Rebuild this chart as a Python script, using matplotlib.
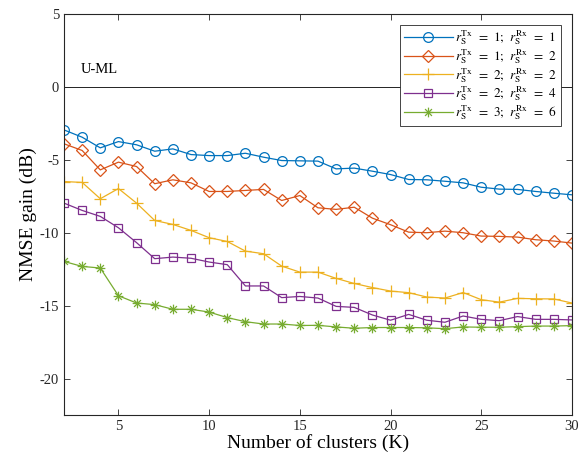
import numpy as np
import matplotlib
matplotlib.use("Agg")
import matplotlib.pyplot as plt
from matplotlib.path import Path

plt.rcParams['font.family'] = ['Liberation Serif', 'DejaVu Serif']
plt.rcParams['mathtext.fontset'] = 'stix'
plt.rcParams['axes.unicode_minus'] = False

# number of clusters
K = np.arange(2, 31)

# NMSE gain (dB) per configuration
g_1_1 = [-2.95, -3.45, -4.18, -3.75, -3.97, -4.41, -4.25, -4.64, -4.71, -4.71,
         -4.55, -4.82, -5.05, -5.07, -5.09, -5.62, -5.57, -5.78, -6.01, -6.35,
         -6.37, -6.47, -6.58, -6.88, -7.01, -7.03, -7.17, -7.29, -7.40]
g_1_2 = [-3.90, -4.36, -5.69, -5.16, -5.46, -6.64, -6.37, -6.58, -7.17, -7.17,
         -7.10, -7.03, -7.79, -7.45, -8.29, -8.40, -8.25, -9.00, -9.45, -9.96,
         -10.00, -9.89, -10.00, -10.23, -10.25, -10.30, -10.48, -10.57, -10.71]
g_2_2 = [-6.49, -6.55, -7.67, -6.97, -7.97, -9.16, -9.43, -9.84, -10.34, -10.60,
         -11.26, -11.44, -12.29, -12.70, -12.70, -13.13, -13.48, -13.76, -14.00, -14.11,
         -14.41, -14.48, -14.10, -14.59, -14.76, -14.50, -14.53, -14.54, -14.82]
g_2_4 = [-7.97, -8.47, -8.88, -9.66, -10.68, -11.78, -11.67, -11.75, -12.01, -12.19,
         -13.65, -13.65, -14.45, -14.37, -14.48, -15.05, -15.12, -15.64, -16.00, -15.60,
         -16.00, -16.14, -15.71, -15.94, -16.03, -15.75, -15.94, -15.94, -15.98]
g_3_6 = [-11.97, -12.31, -12.42, -14.32, -14.82, -14.93, -15.25, -15.25, -15.44, -15.82,
         -16.10, -16.26, -16.26, -16.36, -16.35, -16.46, -16.55, -16.50, -16.50, -16.50,
         -16.52, -16.58, -16.46, -16.48, -16.48, -16.44, -16.40, -16.40, -16.37]

lab = r'$r_{\mathrm{S}}^{\mathrm{Tx}}\;\,=\;\,%d;\;\,r_{\mathrm{S}}^{\mathrm{Rx}}\;\,=\;\,%d$'
labels = [lab % (1, 1), lab % (1, 2), lab % (2, 2), lab % (2, 4), lab % (3, 6)]
series = [g_1_1, g_1_2, g_2_2, g_2_4, g_3_6]
colors = ['#0072BD', '#D95319', '#EDB120', '#7E2F8E', '#77AC30']

# matlab-like asterisk: plus and cross overlaid
d = 0.7071
asterisk = Path([(-1, 0), (1, 0), (0, -1), (0, 1), (-d, -d), (d, d), (-d, d), (d, -d)],
                [Path.MOVETO, Path.LINETO] * 4)
markers = ['o', 'D', '+', 's', asterisk]
msizes = [7, 6, 8, 5.5, 7]

fig = plt.figure(figsize=(5.83, 4.66), dpi=100)
ax = fig.add_axes([0.1098, 0.1094, 0.8712, 0.8606])

ax.axhline(0, color='black', lw=0.6, zorder=1)
ax.text(2.9, 0.75, 'U-ML', fontsize=10.5, ha='left', va='bottom')

for y, lb, c, m, ms in zip(series, labels, colors, markers, msizes):
    ax.plot(K, y, color=c, marker=m, ms=ms, lw=0.9, mfc='none', mec=c,
            mew=0.9, label=lb)

ax.set_xlim(2, 30)
ax.set_ylim(-22.5, 5)
ax.set_xticks([5, 10, 15, 20, 25, 30])
ax.set_yticks([-20, -15, -10, -5, 0, 5])
ax.tick_params(direction='in', top=True, right=True, labelsize=10.5,
               length=4, width=0.6, colors='#262626')
for s in ax.spines.values():
    s.set_linewidth(0.8)
    s.set_color('#262626')

ax.set_xlabel('Number of clusters (K)', fontsize=14, labelpad=1)
ax.set_ylabel('NMSE gain (dB)', fontsize=14, labelpad=2)

leg = ax.legend(loc='upper right', fontsize=9.5, fancybox=False,
                framealpha=1, edgecolor='#262626', borderpad=0.3,
                labelspacing=0.0, handlelength=3.7, handletextpad=0.2,
                borderaxespad=0.8)
leg.get_frame().set_linewidth(0.6)

fig.savefig('out.png', dpi=100)
